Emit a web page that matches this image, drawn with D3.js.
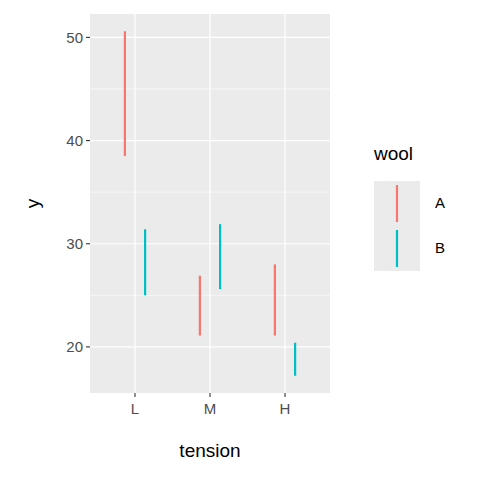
<!DOCTYPE html>
<html>
<head>
<meta charset="UTF-8">
<script src="https://d3js.org/d3.v7.min.js"></script>
<style>
  body { margin: 0; background: #fff; }
  text { font-family: "Liberation Sans", Arial, sans-serif; }
</style>
</head>
<body>
<script>
    const tensions = ["L", "M", "H"];
    const wools = ["A", "B"];
    const yMin = [[38.5, 25.0], [21.1, 25.6], [21.1, 17.2]];
    const yMax = [[50.6, 31.4], [26.9, 31.9], [28.0, 20.4]];
    const colors = ["#F8766D", "#00BFC4"];

    const rows = [];
    tensions.forEach((t, i) => wools.forEach((w, j) =>
        rows.push({ tension: t, wool: w, lo: yMin[i][j], hi: yMax[i][j], c: colors[j] })));

    const W = 480, H = 480;
    const pLeft = 90, pRight = 330, pTop = 14, pBottom = 393;

    const svg = d3.select("body").append("svg").attr("width", W).attr("height", H);

    const x = d3.scalePoint().domain(tensions).range([pLeft, pRight]).padding(0.6);
    const dodge = d3.scalePoint().domain(wools).range([-0.135, 0.135]);
    const y = d3.scaleLinear().domain([15.53, 52.27]).range([pBottom, pTop]);

    svg.append("rect").attr("x", pLeft).attr("y", pTop)
        .attr("width", pRight - pLeft).attr("height", pBottom - pTop).attr("fill", "#EBEBEB");

    const g = svg.append("g");
    [25, 35, 45].forEach(v => g.append("line").attr("x1", pLeft).attr("x2", pRight)
        .attr("y1", y(v)).attr("y2", y(v)).attr("stroke", "#fff").attr("stroke-width", 0.6));
    [20, 30, 40, 50].forEach(v => g.append("line").attr("x1", pLeft).attr("x2", pRight)
        .attr("y1", y(v)).attr("y2", y(v)).attr("stroke", "#fff").attr("stroke-width", 1.2));
    tensions.forEach(t => g.append("line").attr("x1", x(t)).attr("x2", x(t))
        .attr("y1", pTop).attr("y2", pBottom).attr("stroke", "#fff").attr("stroke-width", 1.2));

    svg.selectAll(".rng").data(rows).enter().append("line")
        .attr("x1", d => x(d.tension) + dodge(d.wool) * x.step())
        .attr("x2", d => x(d.tension) + dodge(d.wool) * x.step())
        .attr("y1", d => y(d.lo)).attr("y2", d => y(d.hi))
        .attr("stroke", d => d.c).attr("stroke-width", 2.2);

    // axes
    [20, 30, 40, 50].forEach(v => {
        svg.append("line").attr("x1", pLeft - 4).attr("x2", pLeft).attr("y1", y(v)).attr("y2", y(v))
            .attr("stroke", "#333").attr("stroke-width", 1.1);
        svg.append("text").attr("x", pLeft - 7).attr("y", y(v)).attr("dy", "0.35em")
            .attr("text-anchor", "end").attr("font-size", 15).attr("fill", "#4D4D4D").text(v);
    });
    tensions.forEach(t => {
        svg.append("line").attr("x1", x(t)).attr("x2", x(t)).attr("y1", pBottom).attr("y2", pBottom + 4)
            .attr("stroke", "#333").attr("stroke-width", 1.1);
        svg.append("text").attr("x", x(t)).attr("y", pBottom + 21)
            .attr("text-anchor", "middle").attr("font-size", 15).attr("fill", "#4D4D4D").text(t);
    });
    svg.append("text").attr("x", (pLeft + pRight) / 2).attr("y", 457)
        .attr("text-anchor", "middle").attr("font-size", 19).text("tension");
    svg.append("text").attr("transform", `translate(39,${(pTop + pBottom) / 2}) rotate(-90)`)
        .attr("text-anchor", "middle").attr("font-size", 19).text("y");

    // legend
    svg.append("text").attr("x", 374).attr("y", 160).attr("font-size", 19).text("wool");
    wools.forEach((w, j) => {
        const ky = 181 + j * 45;
        svg.append("rect").attr("x", 374).attr("y", ky).attr("width", 46).attr("height", 45).attr("fill", "#EBEBEB");
        svg.append("line").attr("x1", 397).attr("x2", 397).attr("y1", ky + 4).attr("y2", ky + 41)
            .attr("stroke", colors[j]).attr("stroke-width", 2.2);
        svg.append("text").attr("x", 435).attr("y", ky + 22).attr("dy", "0.35em")
            .attr("font-size", 15).text(w);
    });
</script>
</body>
</html>
